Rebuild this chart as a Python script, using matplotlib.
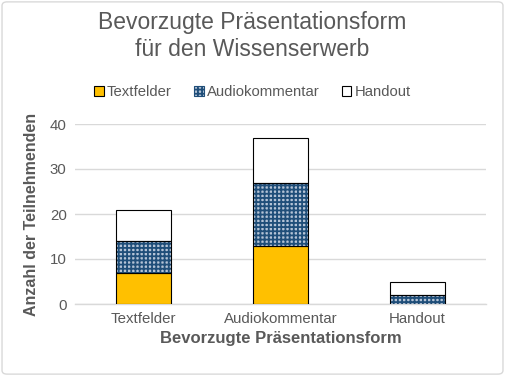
import numpy as np
import matplotlib.pyplot as plt
from matplotlib.patches import FancyBboxPatch, Patch

plt.rcParams['font.family'] = ['Liberation Sans', 'DejaVu Sans']
plt.rcParams['hatch.linewidth'] = 1.3

# Data
categories = ['Textfelder', 'Audiokommentar', 'Handout']
textfelder = [7, 13, 0]
audiokommentar = [7, 14, 2]
handout = [7, 10, 3]

grey = '#595959'
hatch_face = '#b4c3d6'
hatch_col = '#1f4e79'

fig = plt.figure(figsize=(5.05, 3.76), dpi=100)
ax = fig.add_axes([75 / 505, 1 - 304 / 376, 411 / 505, 180 / 376])

x = np.arange(len(categories))
w = 0.4
bottom2 = np.array(textfelder)
bottom3 = bottom2 + np.array(audiokommentar)

ax.bar(x, textfelder, w, color='#ffc000', edgecolor='black', linewidth=0.8, zorder=3)
# hatched series: draw pattern first, then outline
ax.bar(x, audiokommentar, w, bottom=bottom2, color=hatch_face, edgecolor=hatch_col,
       hatch='++++', linewidth=0, zorder=3)
ax.bar(x, audiokommentar, w, bottom=bottom2, fill=False, edgecolor='black', linewidth=0.8, zorder=4)
ax.bar(x, handout, w, bottom=bottom3, color='white', edgecolor='black', linewidth=0.8, zorder=3)

ax.set_xlim(-0.5, 2.5)
ax.set_ylim(0, 40)
ax.set_yticks([0, 10, 20, 30, 40])
ax.set_xticks(x)
ax.set_xticklabels(categories)
ax.yaxis.grid(True, color='#d9d9d9', linewidth=1, zorder=0)
for s in ['top', 'right', 'left']:
    ax.spines[s].set_visible(False)
ax.spines['bottom'].set_color('#d9d9d9')
ax.spines['bottom'].set_linewidth(1)
ax.tick_params(axis='both', length=0, labelsize=10.8, labelcolor=grey, pad=6)

ax.set_xlabel('Bevorzugte Präsentationsform', fontsize=12, fontweight='bold', color=grey, labelpad=3)
ax.set_ylabel('Anzahl der Teilnehmenden', fontsize=11.5, fontweight='bold', color=grey, labelpad=8)

fig.text(0.5, 1 - 36 / 376, 'Bevorzugte Präsentationsform\nfür den Wissenserwerb', ha='center', va='center',
         fontsize=16.5, color=grey, linespacing=1.2)

# legend
handles = [Patch(facecolor='#ffc000', edgecolor='black', linewidth=0.8),
           Patch(facecolor=hatch_face, edgecolor=hatch_col, hatch='++++', linewidth=0.8),
           Patch(facecolor='white', edgecolor='black', linewidth=0.8)]
fig.legend(handles, categories, loc='center', bbox_to_anchor=(0.5, 1 - 92 / 376), ncol=3, frameon=False,
           fontsize=10.7, labelcolor=grey, handlelength=0.65, handleheight=0.65, handletextpad=0.2,
           columnspacing=1.5)

fig.patches.append(FancyBboxPatch((0.004, 0.005), 0.992, 0.99, boxstyle='round,pad=0,rounding_size=0.01',
                                  transform=fig.transFigure, facecolor='none', edgecolor='#d9d9d9', linewidth=1))

fig.savefig('out.png', dpi=100)
